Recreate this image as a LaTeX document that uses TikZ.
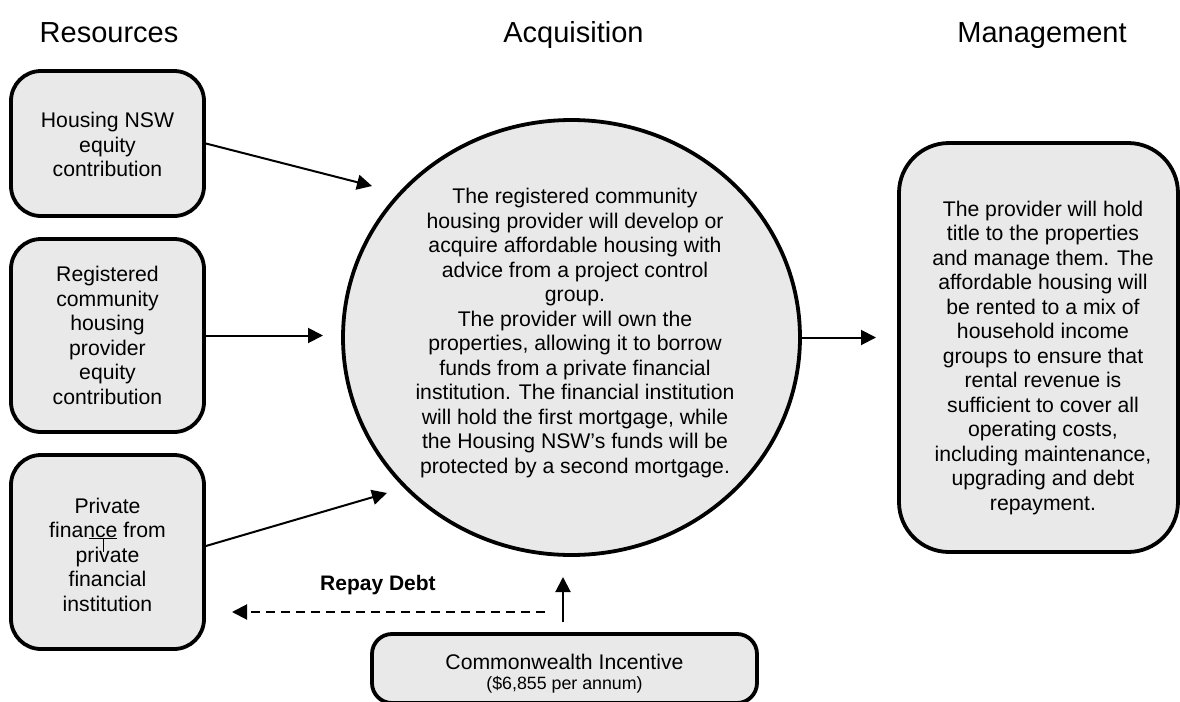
\documentclass[tikz,border=0pt]{standalone}
\usepackage{fontspec}
\setmainfont{Liberation Sans}
\usetikzlibrary{shapes.geometric,arrows.meta}
\definecolor{boxfill}{RGB}{233,233,233}
\begin{document}
\begin{tikzpicture}[x=0.5pt,y=-0.5pt,
  title/.style={font=\fontsize{14.5}{17}\selectfont, anchor=base, inner sep=0pt},
  body/.style={font=\fontsize{10.6}{12.25}\selectfont, align=center, inner sep=0pt},
  small/.style={font=\fontsize{8.9}{10.5}\selectfont, inner sep=0pt},
  rbox/.style={draw, line width=1.9pt, fill=boxfill, rounded corners=15pt, inner sep=0pt},
  flow/.style={line width=1pt, -{Triangle[length=7.5pt,width=7.5pt]}},
]
\useasboundingbox (0,0) rectangle (1180,702);

% titles
\node[title] (tres) at (109,42) {Resources};
\node[title] (tacq) at (573.5,42) {Acquisition};
\node[title] (tman) at (1042,42) {Management};

% resource boxes
\node[rbox, minimum width=96.5pt, minimum height=72.5pt] (b1) at (107.5,143.5) {};
\node[body] (b1t) at (107.5,144.5) {Housing NSW\\equity\\contribution};
\node[rbox, minimum width=96.5pt, minimum height=96.5pt] (b2) at (107.5,335.5) {};
\node[body] (b2t) at (107.5,335.5) {Registered\\community\\housing\\provider\\equity\\contribution};
\node[rbox, minimum width=96.5pt, minimum height=97pt] (b3) at (107.5,552) {};
\node[body] (b3t) at (107.5,554.5) {Private\\finance from\\private\\financial\\institution};
\draw[line width=0.5pt] (89,538) -- (117,538) (103,538) -- (103,552);

% acquisition circle
\node[ellipse, draw, line width=1.9pt, fill=boxfill, minimum width=228.5pt, minimum height=217.5pt, inner sep=0pt] (acq) at (571.5,337.5) {};
\node[body] (acqt) at (575,333) {The registered community\\housing provider will develop or\\acquire affordable housing with\\advice from a project control\\group.\\The provider will own the\\properties, allowing it to borrow\\funds from a private financial\\institution. The financial institution\\will hold the first mortgage, while\\the Housing NSW’s funds will be\\protected by a second mortgage.};

% management box
\node[rbox, rounded corners=25pt, minimum width=139.5pt, minimum height=204.5pt] (mgmt) at (1038.5,347.5) {};
\node[body] (mgmtt) at (1043,358) {The provider will hold\\title to the properties\\and manage them. The\\affordable housing will\\be rented to a mix of\\household income\\groups to ensure that\\rental revenue is\\sufficient to cover all\\operating costs,\\including maintenance,\\upgrading and debt\\repayment.};

% commonwealth box
\node[rbox, rounded corners=10pt, minimum width=192.5pt, minimum height=34.5pt] (cw) at (564.5,668.5) {};
\node[body] (cw1) at (564.5,662) {Commonwealth Incentive};
\node[small] (cw2) at (564.5,685) {(\$6,855 per annum)};

% connectors
\coordinate (t1) at (372,186);
\coordinate (t2) at (323,335.5);
\coordinate (t3) at (387,493);
\coordinate (t4) at (876,337.5);
\coordinate (u0) at (563,622);
\coordinate (u1) at (563,577);
\coordinate (d0) at (545,612);
\coordinate (d1) at (232,612);
\draw[flow] (b1.east) -- (t1);
\draw[flow] (b2.east) -- (t2);
\draw[flow] ([yshift=3pt]b3.east) -- (t3);
\draw[flow] (acq.east) -- (t4);
\draw[flow] (u0) -- (u1);
\draw[flow, dash pattern=on 4.5pt off 3pt] (d0) -- (d1);
\node[font=\fontsize{10.5}{12}\selectfont\bfseries, inner sep=0pt] (repay) at (378,585) {Repay Debt};
\end{tikzpicture}
\end{document}
